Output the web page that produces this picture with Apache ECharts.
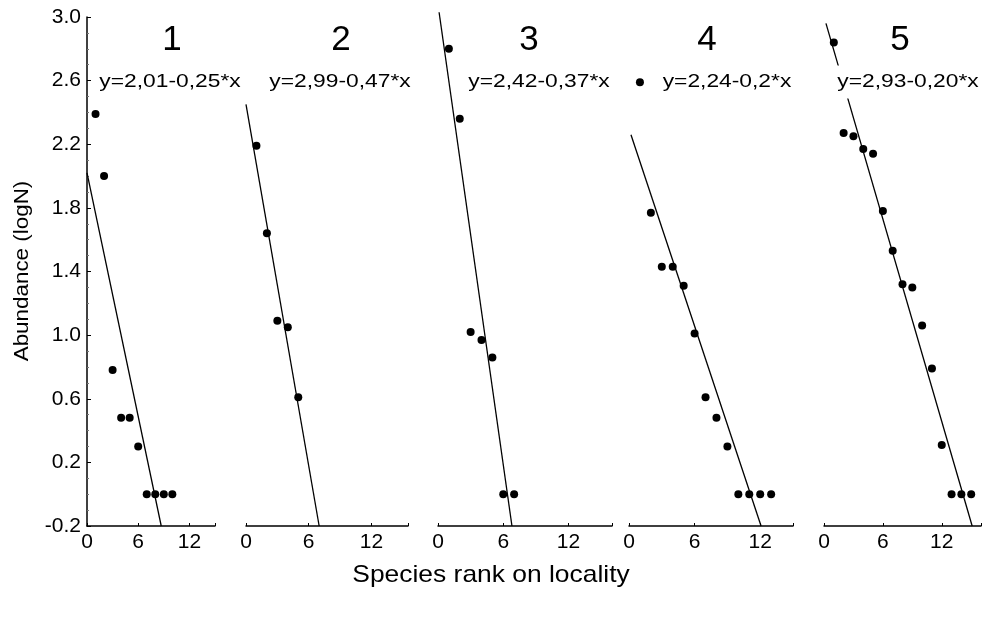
<!DOCTYPE html>
<html>
<head>
<meta charset="utf-8">
<script src="https://cdn.jsdelivr.net/npm/echarts@6/dist/echarts.min.js"></script>
<style>
  html, body { margin: 0; padding: 0; background: #fff; }
  #chart { width: 984px; height: 618px; }
</style>
</head>
<body>
<div id="chart"></div>
<script>
// panel titles and fitted equations
const panelNames = ['1', '2', '3', '4', '5'];
const equations = ['y=2,01-0,25*x', 'y=2,99-0,47*x', 'y=2,42-0,37*x', 'y=2,24-0,2*x', 'y=2,93-0,20*x'];
const xTickValues = [0, 6, 12];

// species rank / abundance (logN)
const pts1 = [[1, 2.39], [2, 2.00], [3, 0.78], [4, 0.48], [5, 0.48], [6, 0.30], [7, 0], [8, 0], [9, 0], [10, 0]];
const pts2 = [[1, 2.19], [2, 1.64], [3, 1.09], [4, 1.05], [5, 0.61]];
const pts3 = [[1, 2.80], [2, 2.36], [3, 1.02], [4, 0.97], [5, 0.86], [6, 0], [7, 0]];
const pts4 = [[1, 2.59], [2, 1.77], [3, 1.43], [4, 1.43], [5, 1.31], [6, 1.01], [7, 0.61], [8, 0.48], [9, 0.30],
              [10, 0], [11, 0], [12, 0], [13, 0]];
const pts5 = [[1, 2.84], [2, 2.27], [3, 2.25], [4, 2.17], [5, 2.14], [6, 1.78], [7, 1.53], [8, 1.32], [9, 1.30],
              [10, 1.06], [11, 0.79], [12, 0.31], [13, 0], [14, 0], [15, 0]];

// fitted lines as drawn (end points)
const fit1 = [[0, 2.02], [8.7, -0.2]];
const fit2 = [[0, 2.45], [7.0, -0.2]];
const fit3 = [[0.1, 3.03], [6.8, -0.2]];
const fit4 = [[0.18, 2.26], [12.08, -0.2]];
const fit5 = [[0.2, 2.96], [15.1, -0.2]];

function initChart(){
	let myChart = echarts.init(document.getElementById('chart'));

	const points = [pts1, pts2, pts3, pts4, pts5];
	const fits = [fit1, fit2, fit3, fit4, fit5];
	const lefts = [87, 246, 438, 629, 824];
	const widths = [128, 162, 174, 164, 159];
	const xMax = [15, 15.5, 16, 15, 16];
	const titleX = [172, 341, 529, 707, 900];
	const eqX = [170, 340, 539, 727, 908];
	const font = 'Liberation Sans, Arial, sans-serif';

	let grid = [], xAxis = [], yAxis = [], series = [], graphic = [];

	for (let i = 0; i < 5; i++) {
		grid.push({ left: lefts[i], width: widths[i], top: 17, height: 509 });
		xAxis.push({
			type: 'value',
			gridIndex: i,
			min: 0,
			max: xMax[i],
			interval: 6,
			axisLine: { show: true, onZero: false, lineStyle: { color: '#000', width: 1.5 } },
			axisTick: { show: true, inside: true, length: 3, lineStyle: { color: '#000' } },
			axisLabel: {
				color: '#000',
				fontSize: 21,
				fontFamily: font,
				margin: 6,
				formatter: function (v) { return xTickValues.indexOf(v) >= 0 ? String(v) : ''; }
			},
			splitLine: { show: false }
		});
		yAxis.push({
			type: 'value',
			gridIndex: i,
			min: -0.2,
			max: 3.0,
			interval: 0.4,
			show: i === 0,
			axisLine: { show: true, lineStyle: { color: '#000', width: 1.5 } },
			axisTick: { show: true, inside: true, length: 4, lineStyle: { color: '#000' } },
			minorTick: { show: true, splitNumber: 4, length: 2, lineStyle: { color: '#777' } },
			axisLabel: {
				color: '#000',
				fontSize: 21,
				fontFamily: font,
				margin: 6,
				formatter: function (v) { return v.toFixed(1); }
			},
			splitLine: { show: false }
		});
		series.push({
			type: 'line',
			xAxisIndex: i,
			yAxisIndex: i,
			data: fits[i],
			showSymbol: false,
			clip: false,
			lineStyle: { color: '#000', width: 1.3 },
			z: 2
		});
		series.push({
			type: 'scatter',
			xAxisIndex: i,
			yAxisIndex: i,
			data: points[i],
			symbol: 'circle',
			symbolSize: 8,
			itemStyle: { color: '#000', opacity: 1 },
			z: 3
		});
		graphic.push({
			type: 'text', x: titleX[i], y: 40, z: 100,
			style: { text: panelNames[i], fontSize: 35, fontFamily: font, fill: '#000', align: 'center', verticalAlign: 'middle' }
		});
		graphic.push({
			type: 'text', x: eqX[i], y: 82, z: 100, scaleX: 1.2,
			style: {
				text: equations[i], fontSize: 19, fontFamily: font, fill: '#000',
				align: 'center', verticalAlign: 'middle',
				backgroundColor: '#fff', padding: [7, 1]
			}
		});
	}

	// axis names
	graphic.push({
		type: 'text', x: 22, y: 271, rotation: Math.PI / 2, scaleX: 1.12, z: 100,
		style: { text: 'Abundance (logN)', fontSize: 20, fontFamily: font, fill: '#000', align: 'center', verticalAlign: 'middle' }
	});
	graphic.push({
		type: 'text', x: 491, y: 575, scaleX: 1.1, z: 100,
		style: { text: 'Species rank on locality', fontSize: 24, fontFamily: font, fill: '#000', align: 'center', verticalAlign: 'middle' }
	});

	let option = {
		backgroundColor: '#fff',
		animation: false,
		grid: grid,
		xAxis: xAxis,
		yAxis: yAxis,
		series: series,
		graphic: graphic
	};

	myChart.setOption(option);
	return myChart;
}

initChart();
</script>
</body>
</html>
